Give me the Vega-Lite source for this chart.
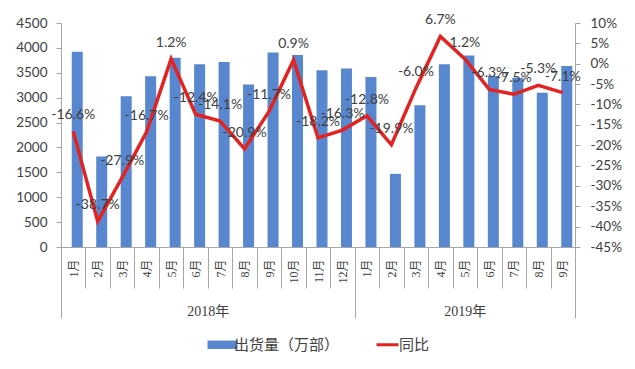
{
  "$schema": "https://vega.github.io/schema/vega-lite/v6.json",
  "autosize": {"type": "none"},
  "width": 514,
  "height": 224,
  "padding": {"left": 61, "top": 23, "right": 60, "bottom": 122},
  "background": "white",
  "config": {
    "view": {"stroke": null},
    "locale": {"number": {"decimal": ".", "thousands": ",", "grouping": [3], "currency": ["$", ""], "minus": "-"}}
  },
  "data": {"values": [
    {"key": "2018-01", "shipments": 3920, "yoy": -0.166},
    {"key": "2018-02", "shipments": 1820, "yoy": -0.387},
    {"key": "2018-03", "shipments": 3030, "yoy": -0.279},
    {"key": "2018-04", "shipments": 3430, "yoy": -0.167},
    {"key": "2018-05", "shipments": 3800, "yoy": 0.012},
    {"key": "2018-06", "shipments": 3670, "yoy": -0.124},
    {"key": "2018-07", "shipments": 3715, "yoy": -0.141},
    {"key": "2018-08", "shipments": 3265, "yoy": -0.209},
    {"key": "2018-09", "shipments": 3905, "yoy": -0.117},
    {"key": "2018-10", "shipments": 3855, "yoy": 0.009},
    {"key": "2018-11", "shipments": 3550, "yoy": -0.182},
    {"key": "2018-12", "shipments": 3585, "yoy": -0.163},
    {"key": "2019-01", "shipments": 3415, "yoy": -0.128},
    {"key": "2019-02", "shipments": 1470, "yoy": -0.199},
    {"key": "2019-03", "shipments": 2850, "yoy": -0.060},
    {"key": "2019-04", "shipments": 3670, "yoy": 0.067},
    {"key": "2019-05", "shipments": 3845, "yoy": 0.012},
    {"key": "2019-06", "shipments": 3435, "yoy": -0.063},
    {"key": "2019-07", "shipments": 3400, "yoy": -0.075},
    {"key": "2019-08", "shipments": 3100, "yoy": -0.053},
    {"key": "2019-09", "shipments": 3635, "yoy": -0.071}
  ]},
  "layer": [
    {
      "mark": {"type": "bar", "width": {"band": 0.45}, "xOffset": 4},
      "encoding": {
        "x": {
          "field": "key", "type": "nominal", "sort": null,
          "scale": {"paddingInner": 0, "paddingOuter": 0},
          "axis": {
            "orient": "bottom", "title": null,
            "labelExpr": "isValid(datum.value) ? toNumber(substring(datum.value, 5)) + '月' : ''",
            "labelAngle": -90, "labelFont": "Liberation Serif, Noto Sans CJK SC", "labelFontSize": 12,
            "labelColor": "#404040", "labelPadding": -29, "labelOverlap": false,
            "ticks": true, "tickBand": "extent", "tickSize": 41, "tickColor": "#A6A6A6", "tickWidth": 1,
            "domainColor": "#A6A6A6", "domainWidth": 1, "grid": false
          }
        },
        "y": {
          "field": "shipments", "type": "quantitative",
          "scale": {"domain": [0, 4500], "nice": false},
          "axis": {
            "orient": "left", "title": null, "grid": false, "format": "d", "labelOverlap": false,
            "values": [0, 500, 1000, 1500, 2000, 2500, 3000, 3500, 4000, 4500],
            "labelFont": "Lato", "labelFontSize": 13.5, "labelColor": "#404040",
            "tickSize": 5, "labelPadding": 9, "tickColor": "#A6A6A6", "domainColor": "#A6A6A6"
          }
        },
        "color": {
          "datum": "出货量（万部）",
          "scale": {"domain": ["出货量（万部）", "同比"], "range": ["#5887CF", "#E32322"]},
          "legend": {
            "orient": "none", "legendX": 154, "legendY": 314, "direction": "horizontal", "title": null,
            "labelFont": "Noto Sans CJK SC", "labelFontSize": 15, "labelColor": "#404040",
            "labelOffset": 4, "columnPadding": 30, "symbolSize": 900,
            "encode": {
              "symbols": {
                "update": {
                  "shape": {"signal": "datum.value === '同比' ? 'stroke' : 'M-1,-0.28H1V0.28H-1Z'"},
                  "size": {"signal": "datum.value === '同比' ? 484 : 900"},
                  "fill": {"signal": "datum.value === '同比' ? 'transparent' : '#5887CF'"},
                  "stroke": {"signal": "datum.value === '同比' ? '#E32322' : 'transparent'"},
                  "strokeWidth": {"signal": "datum.value === '同比' ? 3 : 0"},
                  "opacity": {"value": 1}
                }
              }
            }
          }
        }
      }
    },
    {
      "encoding": {
        "x": {
          "field": "key", "type": "nominal", "sort": null,
          "axis": {
            "orient": "bottom", "title": null, "domain": false, "grid": false,
            "labelExpr": "datum.value === '2018-06' ? '2018年' : (datum.value === '2019-05' ? '2019年' : '')",
            "labelAngle": 0, "labelFont": "Liberation Serif, Noto Sans CJK SC", "labelFontSize": 14,
            "labelColor": "#404040", "labelPadding": -14, "labelOverlap": false,
            "labelOffset": {"condition": {"test": "datum.value === '2018-06'", "value": 12.24}, "value": 0},
            "ticks": true, "tickBand": "extent", "tickSize": 71, "tickColor": "#A6A6A6", "tickWidth": 1,
            "tickOpacity": {"condition": {"test": "datum.index < 0 || datum.value === '2018-12' || datum.value === '2019-09'", "value": 1}, "value": 0}
          }
        },
        "y": {
          "field": "yoy", "type": "quantitative",
          "scale": {"domain": [-0.45, 0.1], "nice": false, "zero": false},
          "axis": {
            "orient": "right", "title": null, "grid": false, "format": ".0%", "labelOverlap": false,
            "values": [-0.45, -0.4, -0.35, -0.3, -0.25, -0.2, -0.15, -0.1, -0.05, 0, 0.05, 0.1],
            "labelFont": "Lato", "labelFontSize": 13.5, "labelColor": "#404040",
            "tickSize": 5, "labelPadding": 10, "tickColor": "#A6A6A6", "domainColor": "#A6A6A6"
          }
        }
      },
      "layer": [
        {
          "mark": {"type": "line", "strokeWidth": 3.5},
          "encoding": {"color": {"datum": "同比"}}
        },
        {
          "mark": {"type": "text", "baseline": "bottom", "dy": -9, "font": "Lato", "fontSize": 14, "color": "#404040"},
          "encoding": {
            "text": {"field": "yoy", "type": "quantitative", "format": ".1%"}
          }
        }
      ]
    }
  ],
  "resolve": {"scale": {"y": "independent"}, "axis": {"x": "independent"}}
}
